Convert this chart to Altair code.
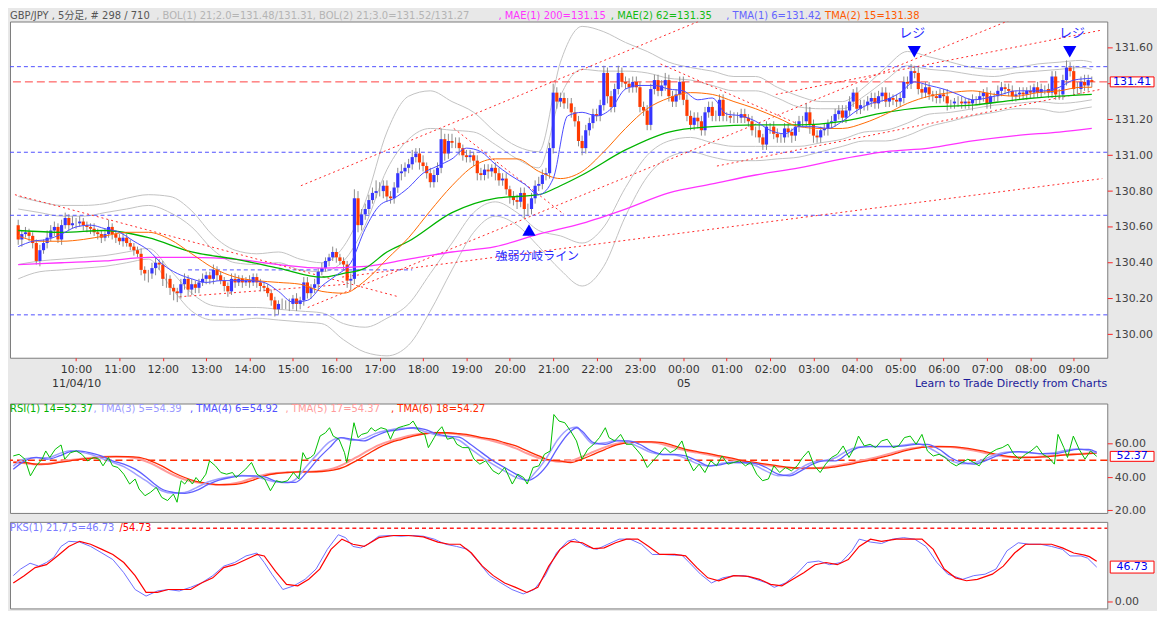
import altair as alt
import pandas as pd

# ---------------- price data (5-min bars, bar 0 = 08:40) ----------------
first_open = 130.61
closes = [
130.53,130.56,130.57,130.55,130.51,130.41,130.47,130.51,130.54,130.58,130.60,130.53,130.61,130.65,130.61,130.62,130.62,130.63,130.61,130.60,
130.59,130.57,130.56,130.54,130.56,130.60,130.56,130.54,130.52,130.54,130.51,130.49,130.47,130.45,130.36,130.34,130.34,130.37,130.40,130.39,
130.31,130.31,130.26,130.24,130.23,130.28,130.31,130.25,130.28,130.26,130.29,130.31,130.33,130.31,130.36,130.33,130.30,130.27,130.24,130.31,
130.29,130.31,130.29,130.30,130.29,130.32,130.29,130.27,130.26,130.23,130.19,130.14,130.17,130.17,130.17,130.17,130.20,130.17,130.19,130.29,
130.23,130.26,130.28,130.35,130.37,130.41,130.43,130.46,130.43,130.41,130.39,130.30,130.31,130.76,130.61,130.67,130.70,130.75,130.79,130.80,
130.80,130.83,130.77,130.76,130.82,130.90,130.91,130.93,130.95,130.99,131.01,130.96,130.94,130.90,130.85,130.89,130.93,131.09,131.01,131.08,
131.07,131.07,131.04,131.00,130.99,131.00,130.97,130.90,130.89,130.92,130.91,130.93,130.90,130.86,130.87,130.81,130.77,130.75,130.74,130.79,
130.70,130.70,130.76,130.83,130.84,130.89,130.90,131.04,131.35,131.30,131.32,131.29,131.29,131.24,131.19,131.08,131.04,131.14,131.18,131.23,
131.22,131.28,131.46,131.33,131.27,131.37,131.46,131.41,131.40,131.38,131.41,131.38,131.27,131.25,131.17,131.37,131.42,131.36,131.39,131.42,
131.33,131.30,131.34,131.41,131.31,131.22,131.17,131.21,131.19,131.14,131.24,131.27,131.22,131.22,131.31,131.22,131.22,131.21,131.21,131.21,
131.23,131.21,131.19,131.14,131.14,131.10,131.06,131.16,131.16,131.12,131.10,131.10,131.15,131.13,131.11,131.16,131.19,131.19,131.24,131.17,
131.11,131.10,131.14,131.15,131.18,131.19,131.23,131.25,131.21,131.25,131.30,131.35,131.26,131.28,131.28,131.30,131.32,131.29,131.33,131.35,
131.30,131.32,131.31,131.30,131.32,131.41,131.40,131.47,131.46,131.37,131.35,131.38,131.34,131.33,131.32,131.34,131.33,131.29,131.29,131.30,
131.30,131.29,131.30,131.29,131.31,131.31,131.33,131.35,131.29,131.33,131.33,131.36,131.38,131.37,131.36,131.33,131.34,131.35,131.34,131.36,
131.35,131.38,131.35,131.37,131.37,131.35,131.44,131.34,131.34,131.42,131.49,131.47,131.37,131.37,131.41,131.39,131.42,131.41]
# wick lengths above / below the body, in pips (0.01)
upper_wick = [
3,2,3,2,2,2,3,2,4,3,3,2,3,3,2,4,3,3,2,2, 2,3,2,2,3,4,2,2,2,3,2,2,2,2,3,2,2,3,3,2,
2,3,2,2,2,3,3,2,3,2,2,3,2,2,3,2,2,2,2,3, 3,2,2,2,3,2,2,2,2,2,2,2,2,3,2,3,2,3,2,3,
3,2,3,2,3,2,2,3,2,2,2,2,3,5,4,3,3,3,3,6, 5,3,3,3,3,3,4,3,3,4,3,3,4,2,3,3,3,6,3,4,
4,3,3,2,3,3,2,3,3,3,3,2,3,3,3,3,2,3,3,3, 3,3,3,3,4,3,3,3,5,3,3,3,3,3,3,3,3,3,3,3,
3,3,4,3,3,3,4,3,3,3,3,3,3,3,3,3,3,3,3,4, 3,3,3,3,3,3,3,3,3,3,3,3,3,3,3,3,2,3,3,3,
3,3,2,3,2,3,2,3,2,3,3,2,3,3,2,3,3,3,5,3, 3,3,2,3,2,3,3,3,3,3,3,2,3,3,3,3,3,3,3,3,
3,3,2,3,3,3,3,4,3,3,3,3,3,2,3,3,3,4,2,2, 3,3,2,2,3,2,3,2,3,3,2,3,3,2,3,3,2,3,3,2,
3,2,3,3,2,3,3,3,3,3,4,3,3,4,3,4,3,2]
lower_wick = [
3,4,2,3,3,2,3,2,3,2,3,2,3,2,3,2,3,2,3,3, 3,2,3,3,2,2,3,3,2,3,2,2,3,2,3,4,5,3,4,3,
4,5,4,5,5,3,3,4,3,3,3,2,3,3,3,3,2,3,3,2, 3,2,3,2,3,2,3,3,2,2,3,4,3,3,3,4,3,4,3,3,
3,3,3,3,2,2,3,2,3,2,3,4,5,3,4,3,3,3,2,3, 3,4,3,3,3,3,4,3,3,3,3,4,3,3,3,3,4,3,4,3,
3,3,4,3,3,3,3,4,3,3,4,3,4,3,3,3,4,3,4,3, 5,4,3,3,3,3,3,3,3,4,3,3,3,3,3,3,4,3,3,3,
3,3,3,4,3,3,3,3,3,3,3,3,3,3,3,3,3,3,3,3, 3,3,3,3,3,3,3,3,4,3,3,3,3,3,3,3,3,3,3,3,
3,3,3,3,4,3,3,3,4,3,3,3,3,3,4,3,3,3,3,5, 4,3,3,3,4,3,3,3,3,3,3,3,3,3,3,3,3,3,3,3,
3,3,3,3,3,3,3,3,3,3,3,3,3,3,3,3,3,4,3,3, 3,3,3,3,4,3,3,3,3,3,3,3,3,3,3,3,3,3,3,3,
3,3,3,3,3,3,3,3,3,3,3,3,3,3,3,3,3,3]

# ---------------- indicator lines on the price panel ----------------
mae200_bar = [0,12,24,36,48,60,72,84,96,108,120,132,144,156,168,180,192,204,216,228,240,252,264,276,288,297]
mae200 = [130.39,130.40,130.41,130.43,130.43,130.42,130.39,130.37,130.38,130.42,130.46,130.49,130.56,130.62,130.70,130.79,130.84,130.89,130.93,130.98,131.02,131.04,131.08,131.11,131.13,131.15]
mae62_bar = [0,12,24,36,48,60,72,84,90,96,102,108,120,132,144,150,156,168,180,192,204,216,228,240,252,264,276,288,297]
mae62 = [130.58,130.57,130.58,130.54,130.46,130.42,130.37,130.32,130.34,130.37,130.46,130.52,130.68,130.76,130.78,130.83,130.89,131.03,131.13,131.16,131.17,131.17,131.19,131.24,131.27,131.28,131.31,131.33,131.34]
six_bar = [0,6,12,18,24,30,36,42,48,54,60,66,72,78,84,90,96,102,108,114,120,126,132,138,144,150,156,162,168,174,180,186,192,198,204,210,216,222,228,234,240,246,252,258,264,270,276,282,288,294,297]
tma15 = [130.55,130.52,130.52,130.53,130.55,130.57,130.57,130.53,130.45,130.37,130.32,130.30,130.29,130.28,130.24,130.23,130.30,130.42,130.54,130.69,130.83,130.94,130.98,130.98,130.91,130.87,130.91,131.02,131.15,131.26,131.32,131.35,131.34,131.30,131.26,131.21,131.16,131.15,131.15,131.18,131.23,131.29,131.33,131.35,131.36,131.34,131.33,131.35,131.36,131.38,131.38]
tma6_bar = [0,4,8,12,16,20,24,28,32,36,40,44,48,52,56,60,64,68,72,76,80,84,88,92,96,100,104,108,112,116,120,124,128,132,136,140,144,148,152,156,160,164,168,172,176,180,184,188,192,196,200,204,208,212,216,220,224,228,232,236,240,244,248,252,256,260,264,268,272,276,280,284,288,292,297]
tma6 = [130.49,130.52,130.53,130.56,130.60,130.61,130.59,130.57,130.52,130.47,130.39,130.34,130.31,130.29,130.30,130.30,130.30,130.29,130.24,130.18,130.19,130.27,130.33,130.40,130.59,130.72,130.76,130.82,130.90,130.94,130.98,131.04,131.02,130.95,130.89,130.84,130.78,130.87,131.22,131.24,131.22,131.26,131.37,131.39,131.39,131.37,131.36,131.31,131.32,131.23,131.22,131.19,131.14,131.12,131.16,131.16,131.15,131.19,131.25,131.29,131.31,131.35,131.41,131.39,131.37,131.34,131.31,131.32,131.34,131.36,131.36,131.36,131.38,131.42,131.43]
bb_up3 = [130.77,130.74,130.72,130.72,130.73,130.76,130.78,130.77,130.69,130.55,130.47,130.45,130.46,130.42,130.40,130.49,130.74,131.13,131.33,131.36,131.30,131.24,131.13,131.05,131.02,131.52,131.72,131.69,131.63,131.58,131.52,131.49,131.47,131.44,131.44,131.38,131.33,131.30,131.30,131.38,131.49,131.58,131.55,131.52,131.49,131.48,131.49,131.51,131.52,131.53,131.52]
bb_up2 = [130.70,130.68,130.66,130.66,130.68,130.70,130.72,130.68,130.60,130.47,130.40,130.39,130.40,130.36,130.35,130.41,130.61,130.92,131.09,131.15,131.14,131.13,131.06,130.98,130.93,131.33,131.48,131.47,131.47,131.46,131.43,131.42,131.39,131.36,131.36,131.32,131.27,131.26,131.26,131.33,131.42,131.50,131.48,131.47,131.45,131.44,131.46,131.47,131.48,131.49,131.48]
bb_lo2 = [130.39,130.41,130.42,130.43,130.44,130.46,130.48,130.36,130.23,130.16,130.15,130.15,130.14,130.13,130.12,130.06,130.04,130.09,130.17,130.34,130.51,130.68,130.74,130.68,130.58,130.55,130.51,130.60,130.82,131.00,131.08,131.10,131.07,131.05,131.05,131.05,131.05,131.07,131.09,131.13,131.14,131.18,131.23,131.24,131.26,131.28,131.29,131.30,131.29,131.30,131.31]
bb_lo3 = [130.31,130.35,130.36,130.37,130.38,130.40,130.42,130.27,130.13,130.08,130.08,130.09,130.08,130.07,130.06,129.97,129.90,129.88,129.94,130.13,130.36,130.57,130.66,130.61,130.49,130.36,130.27,130.38,130.66,130.88,130.99,131.02,130.99,130.97,130.97,130.98,130.99,131.02,131.05,131.08,131.08,131.11,131.16,131.19,131.22,131.24,131.26,131.26,131.24,131.26,131.27]

# horizontal levels and trend lines (bar index / price)
blue_levels = [131.495, 131.017, 130.665, 130.109]
last_price = 131.41
trend_bar1 = [78.2, 80.1, 89.6, 177.7, 209.6, 193.3, -0.9, 44.6, 120.5]
trend_px1 = [130.83, 130.15, 130.32, 131.51, 131.34, 130.94, 130.78, 130.21, 131.15]
trend_bar2 = [193.3, 278.6, 299.9, 215.1, 299.9, 299.9, 105.2, 91.0, 151.0]
trend_px2 = [131.79, 131.79, 130.87, 131.18, 131.70, 131.37, 130.21, 130.28, 130.67]

# ---------------- RSI panel ----------------
rsi_bar = [0.0,1.6,3.2,4.7,6.3,7.9,8.9,10.0,11.5,13.1,14.1,15.7,17.3,18.8,20.4,22.0,23.5,24.6,26.1,27.2,28.7,30.3,31.9,33.4,34.5,36.1,37.6,39.2,40.7,42.3,43.9,44.9,46.0,47.0,48.0,49.1,50.1,51.2,52.8,53.8,55.4,56.9,58.5,60.1,61.1,62.1,63.7,65.3,66.8,68.9,70.5,72.1,73.6,75.2,76.8,78.3,79.4,80.4,81.5,82.5,84.1,85.6,86.7,87.7,89.3,90.8,91.4,92.4,93.4,94.5,95.5,97.1,98.1,99.2,100.8,102.3,103.4,104.4,105.5,107.0,108.6,109.6,111.2,112.8,113.8,115.4,116.4,117.5,119.0,120.6,121.6,123.2,124.8,126.3,127.9,129.5,131.5,133.1,134.7,136.8,138.3,139.9,140.9,142.5,144.1,145.6,147.2,148.2,
149.6,151.2,152.8,154.4,155.9,157.5,159.1,160.7,162.3,163.3,164.9,166.5,168.0,169.6,171.2,172.3,173.8,175.4,177.0,178.6,180.1,181.7,183.3,184.9,186.5,188.0,189.6,191.2,192.8,194.3,195.9,197.5,199.1,200.7,202.2,203.8,205.4,207.0,208.5,210.1,211.7,213.3,214.9,216.4,218.0,219.6,221.2,222.7,224.3,225.9,227.5,229.1,230.6,231.7,233.3,234.9,236.4,238.0,239.6,241.2,242.7,244.3,245.9,247.5,249.1,250.6,252.2,253.8,255.4,256.9,258.5,260.1,261.7,263.3,264.8,266.4,268.0,269.6,271.1,272.7,274.3,275.9,277.5,279.0,280.6,282.2,283.8,285.4,286.4,288.0,289.0,290.6,292.2,293.8,295.3,297.0]
rsi_val = [52.6,53.6,50.7,40.7,46.7,50.7,55.6,51.7,56.6,59.2,50.7,54.6,55.6,53.6,49.7,51.7,50.7,46.7,51.7,46.7,45.7,41.7,35.8,38.8,32.8,28.8,30.8,33.8,27.8,25.9,29.8,24.9,37.8,35.8,38.8,35.8,39.7,36.8,41.7,49.7,46.7,42.7,41.7,42.7,39.7,41.7,44.7,48.7,41.7,38.8,31.8,37.8,36.8,37.8,42.7,38.8,54.6,50.7,51.7,53.6,64.5,66.5,69.5,64.5,62.6,54.6,48.7,59.6,72.5,63.6,65.5,66.5,69.5,67.5,69.5,68.5,62.6,67.5,69.5,70.5,71.5,73.5,67.5,65.5,57.6,63.6,67.5,70.1,62.6,63.6,59.6,57.6,57.6,50.7,47.7,49.7,43.7,41.7,45.7,35.8,41.7,39.7,35.8,45.7,46.7,53.6,55.6,77.4,
73.5,72.5,67.5,61.6,50.7,56.6,59.6,63.6,69.5,63.6,61.6,65.5,59.6,59.6,55.6,52.6,45.7,49.7,53.6,57.6,54.6,56.6,61.6,50.7,43.7,47.7,42.7,49.7,46.7,52.6,47.7,48.7,49.7,46.7,48.7,41.7,37.8,38.8,46.7,42.7,45.7,43.7,46.7,51.7,55.6,46.7,42.7,47.7,51.7,53.6,58.6,51.7,57.6,64.5,58.6,59.6,57.6,61.6,62.6,57.6,58.6,63.6,64.5,59.6,65.5,55.6,52.6,53.6,51.7,48.7,46.7,48.7,50.7,48.7,46.7,51.7,54.6,56.6,57.6,59.6,53.6,50.7,53.6,55.6,58.6,53.6,51.7,47.7,65.5,57.6,51.7,64.5,56.6,50.7,55.6,52.4]

tmaA_bar = [0,3.2,6.3,9.4,12.6,15.7,17.8,20.9,24.1,27.2,30.3,33.4,36.6,38.7,40.7,43.9,47.0,50.1,53.3,56.4,59.5,62.7,65.8,68.9,72.1,75.2,77.3,80.4,83.5,86.7,89.8,92.9,96.1,99.2,102.3,106.5,109.6,112.8,115.9,119.0,122.2,125.3,128.4,131.5,134.7,137.8,140.9,143.0,146.2,149.3,152.4,154.5,155.9,159.1,162.3,165.4,168.6,171.7,174.9,178.0,181.2,184.3,187.5,190.7,193.8,197.0,200.1,203.3,206.4,209.6,212.8,215.9,219.1,222.2,225.4,228.5,231.7,234.9,238.0,241.2,244.3,247.5,250.6,253.8,256.9,260.1,263.3,266.4,269.6,272.7,275.9,279.0,282.2,285.4,288.5,291.7,294.8,297]
tma4_rsi = [44.7,49.7,51.7,50.7,52.6,55.2,55.6,54.6,52.6,49.7,47.7,44.7,39.7,35.8,32.8,30.8,30.2,31.8,35.4,38.2,39.7,40.7,40.7,40.1,37.4,36.8,36.8,42.7,50.7,57.6,63.6,62.6,61.6,64.5,67.1,68.5,69.5,68.5,65.9,64.5,63.9,59.6,54.6,49.7,45.7,41.7,37.8,39.7,46.7,57.6,66.5,69.5,67.5,60.6,59.6,61.6,61.6,59.6,55.6,53.6,53.6,52.6,49.7,46.7,47.3,48.7,48.7,48.1,45.7,41.7,40.7,43.7,47.7,49.7,49.7,53.6,57.6,58.2,58.2,58.2,58.6,59.6,59.6,56.6,51.7,48.7,47.7,49.7,52.6,54.6,55.2,54.6,54.0,54.0,55.2,56.6,56.6,54.9]
tma3_rsi = [46.5,51.0,51.5,51.5,54.0,55.8,55.2,53.8,51.2,48.8,46.2,42.0,37.5,34.2,31.8,30.3,30.8,33.5,37.0,39.0,40.2,40.9,40.5,38.8,37.0,36.6,38.5,46.5,54.0,61.0,63.5,62.0,63.0,66.0,67.8,69.2,69.2,67.2,65.2,64.2,62.0,57.0,52.0,47.5,43.5,39.8,38.2,42.5,51.5,62.5,69.0,70.0,66.5,59.8,60.5,62.0,60.8,57.8,54.6,53.4,53.2,51.2,48.0,46.5,48.0,48.9,48.5,47.0,43.5,40.8,41.5,45.5,48.8,49.9,51.5,55.6,58.0,58.4,58.2,58.4,59.2,60.0,58.0,54.0,50.0,48.0,48.5,51.0,53.6,55.0,55.0,54.3,54.0,54.5,56.0,56.8,55.8,54.4]
tmaB_bar = [0,3.2,6.3,9.4,12.6,15.7,18.8,22.0,25.1,28.2,31.4,34.5,37.6,40.7,43.9,47.0,50.1,53.3,56.4,59.5,62.7,65.8,68.9,72.1,75.2,78.3,81.5,84.6,87.7,90.8,94.0,97.1,100.2,103.4,106.5,109.6,112.8,115.9,119.0,122.2,125.3,128.4,131.5,134.7,137.8,140.9,144.1,147.2,149.6,152.8,155.9,159.1,162.3,165.4,168.6,171.7,174.9,178.0,181.2,184.3,187.5,190.7,193.8,197.0,200.1,203.3,206.4,209.6,212.8,215.9,219.1,222.2,225.4,228.5,231.7,234.9,238.0,241.2,244.3,247.5,250.6,253.8,256.9,260.1,263.3,266.4,269.6,272.7,275.9,279.0,282.2,285.4,288.5,291.7,294.8,297]
tma6_rsi = [48.7,48.7,47.7,47.7,48.7,49.7,50.7,51.3,52.0,52.2,52.2,51.7,49.7,46.7,42.7,39.7,37.4,36.2,35.4,35.4,36.2,38.2,40.7,42.1,42.7,43.1,43.1,43.3,44.1,46.1,49.7,53.6,57.6,60.6,62.6,64.5,65.9,66.5,66.5,65.9,65.1,63.6,62.6,60.6,58.6,55.6,52.6,50.1,49.7,48.7,50.7,53.6,56.6,59.2,60.6,61.0,61.0,60.6,58.6,56.6,55.2,54.0,52.6,51.3,49.7,48.7,47.7,46.7,45.7,45.3,45.3,45.3,46.1,47.3,48.7,50.1,51.7,53.6,55.6,57.2,58.0,58.2,58.2,57.6,56.6,55.2,53.6,52.4,51.7,51.7,52.0,52.6,53.2,53.6,54.0,54.3]
tma5_rsi = [49.2,48.3,47.5,48.0,49.2,50.2,51.0,51.7,52.2,52.3,52.0,50.8,48.3,44.8,41.2,38.5,36.8,35.8,35.3,35.8,37.2,39.5,41.4,42.4,42.9,43.1,43.2,43.7,45.1,47.9,51.7,55.6,59.1,61.6,63.6,65.2,66.2,66.5,66.2,65.5,64.4,63.1,61.6,59.6,57.1,54.1,51.4,49.9,49.2,49.7,52.2,55.1,57.9,59.9,60.8,61.0,60.8,59.6,57.6,55.9,54.6,53.3,52.0,50.5,49.2,48.2,47.2,46.2,45.5,45.3,45.3,45.7,46.7,48.0,49.4,50.9,52.6,54.6,56.4,57.6,58.1,58.2,57.9,57.1,55.9,54.4,53.0,52.0,51.7,51.8,52.3,52.9,53.4,53.8,54.2,54.4]

# ---------------- PKS panel ----------------
pks_k_bar = [0,2.0,4.6,7.0,9.1,11.1,13.1,15.2,18.2,21.2,24.3,27.3,30.3,33.4,36.4,39.5,42.5,45.5,48.6,51.6,54.7,57.7,60.7,63.8,66.8,68.8,70.9,73.9,76.9,80.0,83.0,86.1,89.1,91.1,93.1,95.2,97.2,100.2,103.3,106.3,109.4,112.4,115.4,118.5,121.5,124.6,127.6,130.6,133.7,136.7,139.8,142.8,145.8,148.9,151.9,153.9,157.0,160.0,163.0,166.1,169.1,172.2,175.2,178.2,181.3,183.3,185.3,188.4,191.4,194.5,197.5,200.5,203.6,206.6,208.6,211.7,214.7,217.7,220.8,223.8,226.9,229.9,231.9,235.0,238.0,241.0,244.1,247.1,250.2,253.2,256.2,260.3,263.3,266.4,269.4,272.4,275.5,278.5,281.6,284.6,287.6,289.7,292.7,294.5,297]
pks_k = [35,44,52,48,53,60,75,82,81,75,66,57,39,16,7,14,16,14,19,25,35,48,53,62,66,53,37,16,21,30,44,71,91,87,75,73,78,89,90,89,90,89,85,78,75,71,53,35,25,16,10,16,35,66,82,85,75,71,78,85,85,78,64,64,63,63,53,37,25,32,35,35,30,25,19,25,37,53,55,50,53,69,85,81,79,85,87,85,75,53,37,30,35,37,44,69,80,78,78,75,71,62,62,59,46.73]
pks_d_bar = [0,3.0,6.0,9.1,12.1,15.2,18.2,21.2,24.3,27.3,30.3,33.4,36.4,39.5,42.5,45.5,48.6,51.6,54.7,57.7,60.7,63.8,66.8,68.8,71.9,74.9,78.0,81.0,84.0,87.1,90.1,93.1,96.2,100.2,104.3,108.3,112.4,116.4,119.5,122.5,125.6,128.6,131.6,134.7,137.7,140.8,143.8,146.8,149.9,152.9,156.0,159.0,162.0,165.1,168.1,171.2,174.2,177.2,181.3,184.3,187.4,190.4,193.4,197.5,201.5,204.6,207.6,210.7,213.7,216.7,219.8,222.8,225.9,228.9,231.9,235.0,238.0,242.1,246.1,249.1,252.2,255.2,258.3,261.3,264.3,268.4,271.4,274.5,277.5,280.6,284.6,287.6,290.7,293.7,295.0,297]
pks_d = [25,35,46,50,62,75,82,78,71,64,53,35,12,12,16,16,16,25,32,46,50,57,64,62,41,23,21,30,44,71,85,78,75,87,90,90,88,81,78,78,66,48,35,25,19,12,19,48,71,82,80,72,73,80,85,85,75,64,64,62,46,32,28,35,34,30,23,21,30,39,50,53,50,57,75,85,82,85,85,85,71,44,32,28,30,37,48,66,78,78,78,73,66,63,61,54.73]

# ---------------- axis labels ----------------
hour_ticks = [16,28,40,52,64,76,88,100,112,124,136,148,160,172,184,196,208,220,232,244,256,268,280,292]
hour_labels = ["10:00","11:00","12:00","13:00","14:00","15:00","16:00","17:00","18:00","19:00","20:00","21:00",
               "22:00","23:00","00:00","01:00","02:00","03:00","04:00","05:00","06:00","07:00","08:00","09:00"]
date_labels = {"10:00": "11/04/10", "00:00": "05"}
price_ticks = [130.0, 130.2, 130.4, 130.6, 130.8, 131.0, 131.2, 131.4, 131.6]

# ---------------- build tables ----------------
opens = [first_open] + closes[:-1]
candles = pd.DataFrame({
    "bar": list(range(len(closes))),
    "open": opens,
    "close": closes,
    "high": [max(o, c) + u / 100 for o, c, u in zip(opens, closes, upper_wick)],
    "low": [min(o, c) - d / 100 for o, c, d in zip(opens, closes, lower_wick)],
})
candles["dir"] = ["up" if c >= o else "down" for o, c in zip(candles["open"], candles["close"])]

def series(bars, vals):
    n = min(len(bars), len(vals))
    return pd.DataFrame({"bar": list(bars)[:n], "v": list(vals)[:n]})

W = 1103
H1, H2, H3 = 338, 110, 87
FONT = "DejaVu Sans, 'Noto Sans CJK JP'"
xs = alt.Scale(domain=[-0.9, 299.9], nice=False, zero=False)
ys = alt.Scale(domain=[129.8694, 131.7472], nice=False, zero=False)
rs = alt.Scale(domain=[18.5, 84.0], nice=False, zero=False)
ps = alt.Scale(domain=[-9.9, 108.6], nice=False, zero=False)
one = pd.DataFrame({"a": [0]})

lab_items = []
for h in hour_labels:
    if h in date_labels:
        lab_items.append("['%s','%s']" % (h, date_labels[h]))
    else:
        lab_items.append("'%s'" % h)
label_expr = "[" + ",".join(lab_items) + "][round((datum.value-16)/12)]"

x_axis_price = alt.Axis(values=hour_ticks, labelExpr=label_expr, tickColor="#ff2020", tickSize=3,
                        labelFont=FONT, labelFontSize=11, labelColor="#333333", domain=False, grid=False,
                        labelPadding=3, labelLineHeight=14, labelOverlap=False, labelFlush=False, title=None)

def right_axis(vals):
    return alt.Axis(orient="right", values=vals, format=".2f", tickColor="#ff2020", tickSize=5,
                    labelFont=FONT, labelFontSize=11, labelColor="#444444", domain=False, grid=False,
                    labelPadding=2, labelOverlap=False, labelFlush=False, title=None)

y_axis_price = right_axis(price_ticks)
y_axis_rsi = right_axis([20, 40, 60])
y_axis_pks = right_axis([0])


def make_panel(xax, ysc, yax):
    def xq():
        return alt.X("bar:Q", scale=xs, axis=xax)

    def yq(field):
        return alt.Y(field, scale=ysc, axis=yax)

    def line(df, color, width=1.0, interp="monotone", dash=None):
        kw = dict(color=color, strokeWidth=width, interpolate=interp, clip=True)
        if dash:
            kw["strokeDash"] = dash
        return alt.Chart(df).mark_line(**kw).encode(x=xq(), y=yq("v:Q"))

    def value_box(v, text, h):
        r = h / 44.0
        path = "M-1,-%.3fH1V%.3fH-1Z" % (r, r)
        box = alt.Chart(one).mark_point(shape=path, size=44 * 44, filled=True, fill="white", stroke="#ff0000",
                                        strokeWidth=1, opacity=1).encode(
            x=alt.value(W + 25), y=alt.Y(datum=v, scale=ysc, axis=yax))
        t = alt.Chart(one).mark_text(text=text, color="#0000ee", fontSize=11, font=FONT, align="center",
                                     baseline="middle").encode(
            x=alt.value(W + 25), y=alt.Y(datum=v, scale=ysc, axis=yax))
        return [box, t]

    return xq, yq, line, value_box


def label(s, x, y, color, size=10, align="left", font=FONT):
    return alt.Chart(one).mark_text(text=s, color=color, fontSize=size, font=font, align=align,
                                    baseline="middle").encode(x=alt.value(x), y=alt.value(y))

# ---------------- price panel ----------------
xq, yq, line, value_box = make_panel(x_axis_price, ys, y_axis_price)

lev = pd.DataFrame({"v": blue_levels})
levels = alt.Chart(lev).mark_rule(color="#5050ff", strokeDash=[4, 3], strokeWidth=1).encode(y=yq("v:Q"))
last_rule = alt.Chart(pd.DataFrame({"v": [last_price]})).mark_rule(
    color="#ff4040", strokeDash=[8, 4], strokeWidth=1).encode(y=yq("v:Q"))
short_lvl = alt.Chart(pd.DataFrame({"bar": [47], "b2": [109], "v": [130.36]})).mark_rule(
    color="#5050ff", strokeDash=[4, 3], strokeWidth=1).encode(x=xq(), x2="b2:Q", y=yq("v:Q"))
tr = pd.DataFrame({"bar": trend_bar1, "p1": trend_px1, "b2": trend_bar2, "p2": trend_px2})
trends = alt.Chart(tr).mark_rule(color="#ff2a2a", strokeDash=[2, 3], strokeWidth=1, clip=True).encode(
    x=xq(), x2="b2:Q", y=yq("p1:Q"), y2="p2:Q")

bb_layers = [line(series(six_bar, b), "#c2c2c2", 1.0) for b in (bb_up3, bb_up2, bb_lo2, bb_lo3)]

wicks = alt.Chart(candles).mark_rule(color="#8a8a8a", strokeWidth=1).encode(
    x=xq(), y=yq("low:Q"), y2="high:Q")
bodies = alt.Chart(candles).mark_bar(size=3.2).encode(
    x=xq(), y=yq("open:Q"), y2="close:Q",
    color=alt.Color("dir:N", scale=alt.Scale(domain=["up", "down"], range=["#3535ff", "#ff3a00"]), legend=None))

ma_layers = [
    line(series(mae200_bar, mae200), "#ff33ff", 1.3),
    line(series(mae62_bar, mae62), "#00b400", 1.3),
    line(series(six_bar, tma15), "#ff6a00", 1.0),
    line(series(tma6_bar, tma6), "#4a4aff", 1.0),
]

tri_up = alt.Chart(pd.DataFrame({"bar": [141.3], "v": [130.583]})).mark_point(
    shape="triangle-up", filled=True, color="#0000ff", size=175, opacity=1).encode(x=xq(), y=yq("v:Q"))
tri_dn = alt.Chart(pd.DataFrame({"bar": [247.9, 290.9], "v": [131.578, 131.578]})).mark_point(
    shape="triangle-down", filled=True, color="#0000ff", size=175, opacity=1).encode(x=xq(), y=yq("v:Q"))
ann1 = alt.Chart(pd.DataFrame({"bar": [143.6], "v": [130.436], "t": ["強弱分岐ライン"]})).mark_text(
    font="'Noto Sans CJK JP'", fontSize=12, color="#2626ff").encode(x=xq(), y=yq("v:Q"), text="t:N")
ann2 = alt.Chart(pd.DataFrame({"bar": [247.3, 291.5], "v": [131.683, 131.683], "t": ["レジ", "レジ"]})).mark_text(
    font="'Noto Sans CJK JP'", fontSize=13, color="#2626ff").encode(x=xq(), y=yq("v:Q"), text="t:N")

hdr_y = -6
header = [
    label("GBP/JPY , 5分足, # 298 / 710", 0, hdr_y, "#555555"),
    label(", BOL(1) 21;2.0=131.48/131.31, BOL(2) 21;3.0=131.52/131.27", 147, hdr_y, "#b4b4b4"),
    label(", MAE(1) 200=131.15", 491, hdr_y, "#ff33ff"),
    label(", MAE(2) 62=131.35", 604, hdr_y, "#11bb11"),
    label(", TMA(1) 6=131.42", 720, hdr_y, "#6464ff"),
    label(", TMA(2) 15=131.38", 813, hdr_y, "#ff5a00"),
    label("Learn to Trade Directly from Charts", W, H1 + 26, "#1c1c9a", size=11, align="right"),
]

price = alt.layer(
    *bb_layers, levels, last_rule, short_lvl, trends, wicks, bodies, *ma_layers,
    tri_up, tri_dn, ann1, ann2, *value_box(last_price, "131.41", 10), *header
).properties(width=W, height=H1)

# ---------------- RSI panel ----------------
xq, yq, line, value_box = make_panel(None, rs, y_axis_rsi)
rsi_mid = alt.Chart(pd.DataFrame({"v": [50]})).mark_rule(
    color="#ff2a00", strokeDash=[7, 4], strokeWidth=1.5).encode(y=yq("v:Q"))
rsi_layers = [
    rsi_mid,
    line(series(tmaB_bar, tma5_rsi), "#ff9a9a", 2.0),
    line(series(tmaB_bar, tma6_rsi), "#ff2a00", 1.3),
    line(series(tmaA_bar, tma3_rsi), "#a0a0ff", 1.5),
    line(series(tmaA_bar, tma4_rsi), "#6060ff", 1.3),
    line(series(rsi_bar, rsi_val), "#00c000", 1.0, interp="linear"),
]
rsi_hdr = [
    label("RSI(1) 14=52.37", 0, 6, "#00b000"),
    label(", TMA(3) 5=54.39", 84, 6, "#9a9aff"),
    label(", TMA(4) 6=54.92", 181, 6, "#5050ff"),
    label(", TMA(5) 17=54.37", 277, 6, "#ff9a9a"),
    label(", TMA(6) 18=54.27", 383, 6, "#ff2a00"),
]
rsi = alt.layer(*rsi_layers, *value_box(52.37, "52.37", 10), *rsi_hdr).properties(width=W, height=H2)

# ---------------- PKS panel ----------------
xq, yq, line, value_box = make_panel(None, ps, y_axis_pks)
pks_top = alt.Chart(pd.DataFrame({"bar": [39.5], "b2": [299.9], "v": [100]})).mark_rule(
    color="#ff2020", strokeDash=[4, 3], strokeWidth=1.5).encode(x=xq(), x2="b2:Q", y=yq("v:Q"))
pks_layers = [
    pks_top,
    line(series(pks_k_bar, pks_k), "#6e6eff", 1.0, interp="linear"),
    line(series(pks_d_bar, pks_d), "#ff0000", 1.2, interp="linear"),
]
pks_hdr = [
    label("PKS(1) 21,7,5=46.73", 0, 6, "#7a7aff"),
    label("/54.73", 110, 6, "#ff0000"),
]
pks = alt.layer(*pks_layers, *value_box(46.73, "46.73", 12), *pks_hdr).properties(width=W, height=H3)

chart = alt.vconcat(price, alt.vconcat(rsi, pks, spacing=5), spacing=13).configure(
    background="#e8e8e8", padding=0
).configure_view(stroke="#7c7c7c", strokeWidth=1, fill="white")

chart.save("out.html", embed_options={"renderer": "svg", "actions": False})
